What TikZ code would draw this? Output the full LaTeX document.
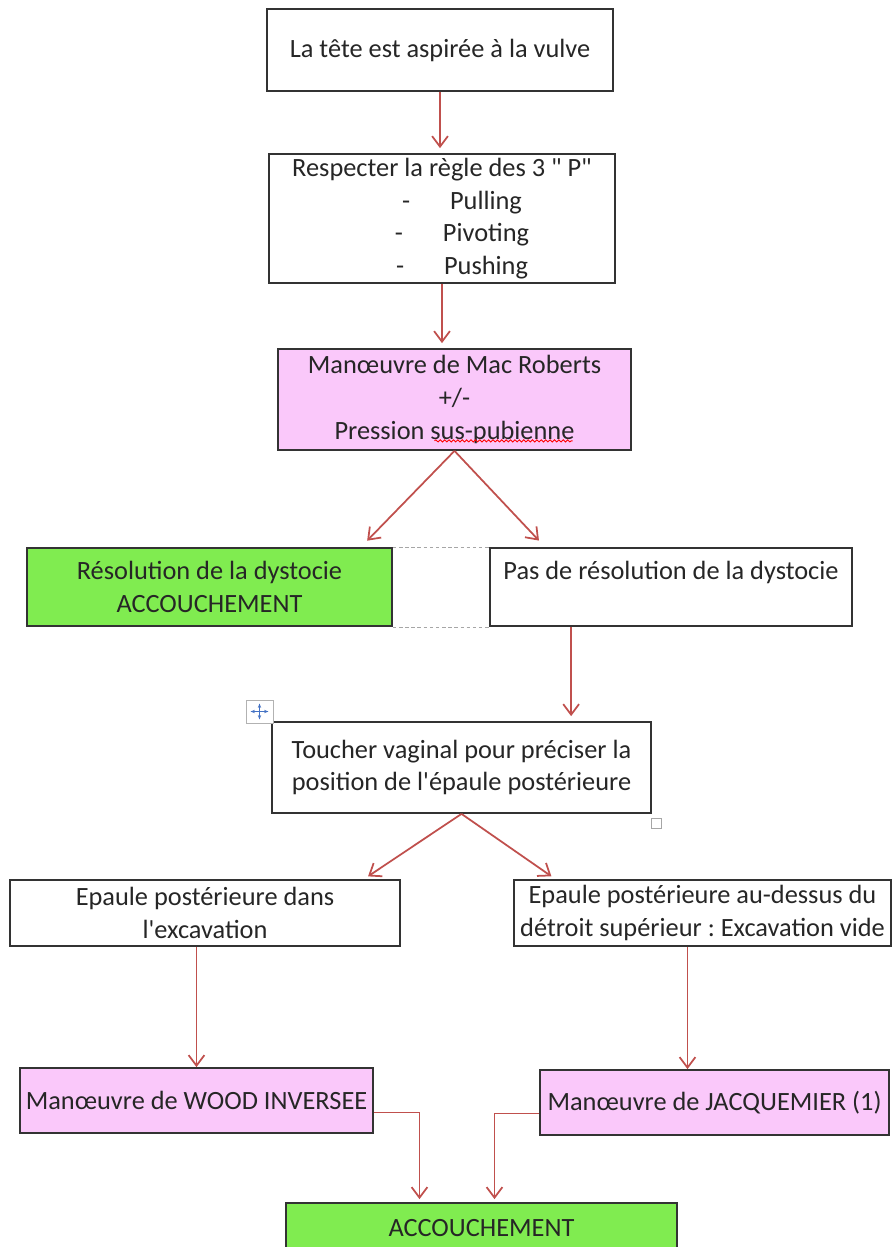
\documentclass[tikz,border=0pt]{standalone}
\usepackage{fontspec}
\setmainfont{Carlito}
\usetikzlibrary{arrows.meta,calc,decorations.pathmorphing}
\frenchspacing

\newlength\px
\setlength\px{0.02cm}

\begin{document}
\begin{tikzpicture}[x=1\px, y=-1\px,
  box/.style={draw=black!80, line width=1pt, fill=white, align=center, inner ysep=1pt,
    text=black!85, font=\fontsize{15}{18.6}\selectfont},
  pinkbox/.style={box, fill=cpink},
  greenbox/.style={box, fill=cgreen},
  arr/.style={draw=cred, line width=1pt, -{Straight Barb[length=6pt,width=9pt]}, shorten >=5\px}]

% Page size
\useasboundingbox (0,0) rectangle (892,1247);
\clip (0,0) rectangle (892,1247);

% Colors
\definecolor{cpink}{RGB}{250,200,250}
\definecolor{cgreen}{RGB}{128,236,80}
\definecolor{cred}{RGB}{192,80,77}
\definecolor{cblue}{RGB}{68,114,196}

% Top of the chart
\node[box, minimum width=346\px, minimum height=82\px] (tete) at (440,50) {La tête est aspirée à la vulve};
\node[box, minimum width=346\px, minimum height=129\px] (regle) at (442,218.5) {Respecter la règle des 3 \textquotedbl{} P\textquotedbl\\
  \hspace*{40\px}-\hspace{40\px}Pulling\\
  \hspace*{40\px}-\hspace{40\px}Pivoting\\
  \hspace*{40\px}-\hspace{40\px}Pushing};
\node[pinkbox, minimum width=353\px, minimum height=101\px] (macr) at (454.5,399.5) {Manœuvre de Mac Roberts\\+/-\\Pression sus-pubienne};
% spell-check wave under "sus-pubienne"
\draw[red, line width=0.5pt, decorate, decoration={snake, amplitude=0.6pt, segment length=2.5pt}] ($(macr.south)+(-20,-10)$) -- ($(macr.south)+(118,-10)$);

% Result of Mac Roberts
\node[greenbox, minimum width=365\px, minimum height=78\px] (resol) at (209.5,587) {Résolution de la dystocie\\ACCOUCHEMENT};
\node[box, minimum width=362\px, minimum height=78\px] (pasresol) at (671,587) {Pas de résolution de la dystocie\\~};
\draw[gray!70, dash pattern=on 2pt off 1.5pt] (resol.north east) -- (pasresol.north west);
\draw[gray!70, dash pattern=on 2pt off 1.5pt] (resol.south east) -- (pasresol.south west);

\node[box, minimum width=379\px, minimum height=91\px] (toucher) at (461.5,767.5) {Toucher vaginal pour préciser la\\position de l\textquotesingle épaule postérieure};

% Word handles
\node[draw=gray!60, fill=white, minimum width=27\px, minimum height=23\px, inner sep=0pt] (movehandle) at (259.5,711.5) {};
\draw[cblue, line width=0.7pt, {Stealth[length=2.5pt]}-{Stealth[length=2.5pt]}] ($(movehandle.center)+(-9,0)$) -- ($(movehandle.center)+(9,0)$);
\draw[cblue, line width=0.7pt, {Stealth[length=2.5pt]}-{Stealth[length=2.5pt]}] ($(movehandle.center)+(0,-8)$) -- ($(movehandle.center)+(0,8)$);
\node[draw=gray!70, minimum size=10\px, inner sep=0pt] (sizehandle) at (656,823) {};

% Posterior shoulder
\node[box, minimum width=390\px, minimum height=66\px] (excav) at (205,913) {Epaule postérieure dans\\l\textquotesingle excavation};
\node[box, minimum width=375\px, minimum height=66\px] (dessus) at (702.5,913) {Epaule postérieure au-dessus du\\détroit supérieur : Excavation vide};

\node[pinkbox, minimum width=349\px, minimum height=65\px] (wood) at (196.5,1100.5) {Manœuvre de WOOD INVERSEE};
\node[pinkbox, minimum width=349\px, minimum height=65\px] (jacq) at (714.5,1102.5) {Manœuvre de JACQUEMIER (1)};

\node[greenbox, minimum width=391\px, minimum height=50\px] (accouch) at (481.5,1228) {ACCOUCHEMENT};

% Arrows
\draw[arr] (tete.south) -- (tete.south |- regle.north);
\draw[arr] (regle.south) -- (regle.south |- macr.north);
\draw[arr, shorten >=9\px] (macr.south) -- ($(resol.north east)+(-32,0)$);
\draw[arr, shorten >=9\px] (macr.south) -- ($(pasresol.north west)+(56,0)$);
\coordinate (pasout) at ($(pasresol.south west)+(82,0)$);
\draw[arr] (pasout) -- (pasout |- toucher.north);
\draw[arr] (toucher.south) -- ($(excav.north east)+(-37,0)$);
\draw[arr] (toucher.south) -- ($(dessus.north west)+(42,0)$);
\draw[arr, shorten >=0pt] (excav.south -| wood.north) -- (wood.north);
\coordinate (jacqin) at ($(jacq.north)+(-27,0)$);
\draw[arr, shorten >=0pt] (jacqin |- dessus.south) -- (jacqin);
\draw[arr, shorten >=3\px] ($(wood.east)+(0,12)$) -| ($(accouch.north)+(-62,0)$);
\draw[arr, shorten >=3\px] ($(jacq.west)+(0,11)$) -| ($(accouch.north)+(13,0)$);

\end{tikzpicture}
\end{document}
